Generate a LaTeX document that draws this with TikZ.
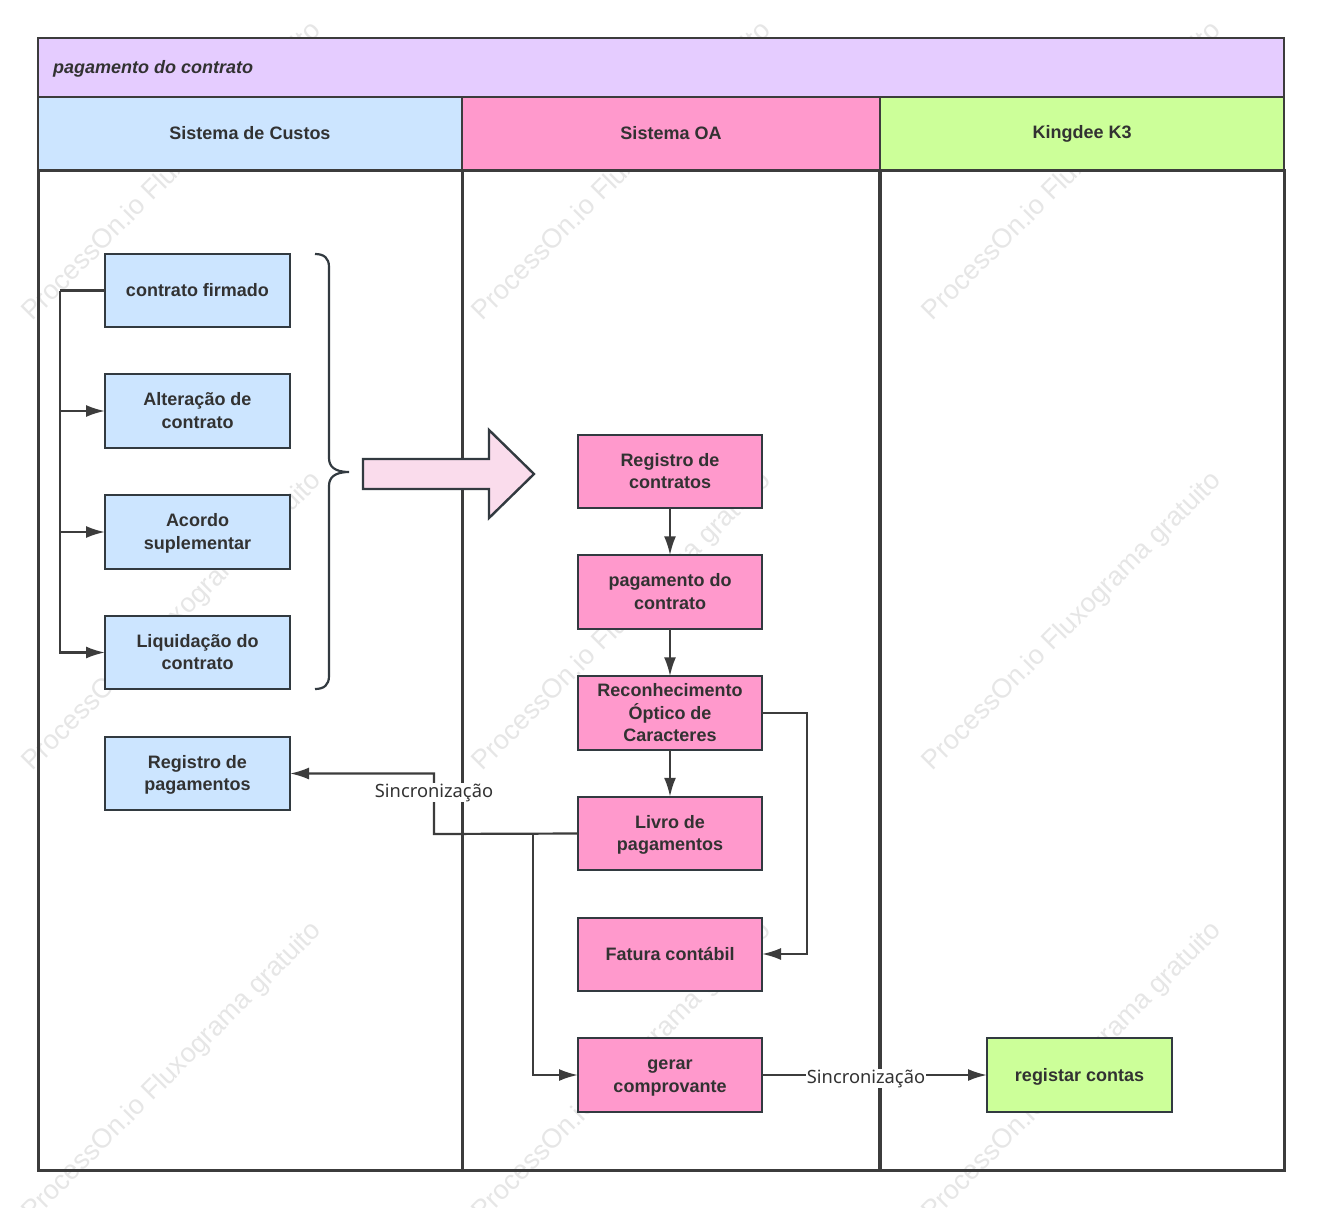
\documentclass[tikz,border=0pt]{standalone}
\usepackage{fontspec}
\setmainfont{Liberation Sans}
\newfontfamily\labelfont{Noto Sans}
\usetikzlibrary{arrows.meta}
\definecolor{inkline}{HTML}{323A40}
\definecolor{laneline}{HTML}{3C3C3C}
\definecolor{inktext}{HTML}{323232}
\definecolor{titlefill}{HTML}{E5CCFF}
\definecolor{bluefill}{HTML}{CCE5FF}
\definecolor{pinkfill}{HTML}{FF99CC}
\definecolor{greenfill}{HTML}{CCFF99}
\definecolor{arrowfill}{HTML}{FADCEC}
\definecolor{markgray}{HTML}{E6E6E6}
\newcommand{\lift}{\rule{0pt}{19pt}}
\tikzset{
  stepbox/.style={draw=inkline,line width=2.4pt,minimum width=185pt,minimum height=73.5pt,
    inner sep=0pt,outer sep=0pt,align=center,text=inktext,font=\fontsize{18}{22.5}\selectfont\bfseries,
    execute at begin node=\rule{0pt}{18.75pt},execute at end node=\strut},
  lanehead/.style={draw=laneline,line width=2.9pt,minimum height=73pt,inner sep=0pt,outer sep=0pt,
    text=inktext,font=\fontsize{18}{22}\selectfont\bfseries},
  lanebody/.style={draw=laneline,line width=3pt,minimum height=1000pt,inner sep=0pt,outer sep=0pt},
  flow/.style={draw=laneline,line width=2.2pt,-{Latex[length=19pt,width=12pt]}},
  flowline/.style={draw=laneline,line width=2.2pt},
  synclabel/.style={fill=white,inner sep=1pt,text=inktext,font=\labelfont\fontsize{18.3}{22}\selectfont},
  watermark/.style={rotate=45,text=markgray,font=\fontsize{27}{30}\selectfont}
}
\begin{document}
\begin{tikzpicture}[x=1pt,y=-1pt]
\path[use as bounding box,clip] (0,0) rectangle (1321,1207);
\fill[white] (0,0) rectangle (1321,1207);
% watermark
\node[watermark] (markA) at (172.5,172) {ProcessOn.io Fluxograma gratuito};
\node[watermark] (markB) at (622.5,172) {ProcessOn.io Fluxograma gratuito};
\node[watermark] (markC) at (1072.5,172) {ProcessOn.io Fluxograma gratuito};
\node[watermark] (markD) at (172.5,622) {ProcessOn.io Fluxograma gratuito};
\node[watermark] (markE) at (622.5,622) {ProcessOn.io Fluxograma gratuito};
\node[watermark] (markF) at (1072.5,622) {ProcessOn.io Fluxograma gratuito};
\node[watermark] (markG) at (172.5,1072) {ProcessOn.io Fluxograma gratuito};
\node[watermark] (markH) at (622.5,1072) {ProcessOn.io Fluxograma gratuito};
\node[watermark] (markI) at (1072.5,1072) {ProcessOn.io Fluxograma gratuito};
% lanes
\node[lanebody,minimum width=424pt] (bodyCustos) at (250,670) {};
\node[lanebody,minimum width=418pt] (bodyOA) at (671,670) {};
\node[lanebody,minimum width=404pt] (bodyK3) at (1082,670) {};
\draw[laneline,line width=3.8pt] (bodyK3.north west) -- (bodyK3.south west);
\node[lanehead,minimum width=1246pt,minimum height=59pt,fill=titlefill] (title) at (661,67.5) {};
\node[anchor=west,inner sep=0pt,text=inktext,font=\fontsize{18}{22}\selectfont\bfseries\itshape] (titleText) at (53,68.5) {pagamento do contrato};
\node[lanehead,minimum width=424pt,fill=bluefill] (headCustos) at (250,133.5) {Sistema de Custos};
\node[lanehead,minimum width=418pt,fill=pinkfill] (headOA) at (671,133.5) {Sistema OA};
\node[lanehead,minimum width=404pt,fill=greenfill] (headK3) at (1082,133.5) {Kingdee K3};
% boxes on the left
\node[stepbox,fill=bluefill] (firmado) at (197.5,290.5) {contrato firmado};
\node[stepbox,fill=bluefill] (alteracao) at (197.5,411) {\lift Alteração de\\contrato};
\node[stepbox,fill=bluefill] (acordo) at (197.5,532) {\lift Acordo\\suplementar};
\node[stepbox,fill=bluefill] (liquidacao) at (197.5,652.5) {\lift Liquidação do\\contrato};
\node[stepbox,fill=bluefill] (pagamentos) at (197.5,773.5) {\lift Registro de\\pagamentos};
% boxes in the middle
\node[stepbox,fill=pinkfill,minimum width=184pt] (registro) at (670,471.5) {\lift Registro de\\contratos};
\node[stepbox,fill=pinkfill,minimum width=184pt] (pagamento) at (670,592) {\lift pagamento do\\contrato};
\node[stepbox,fill=pinkfill,minimum width=184pt] (ocr) at (670,713) {\lift Reconhecimento\\Óptico de\\Caracteres};
\node[stepbox,fill=pinkfill,minimum width=184pt] (livro) at (670,833.5) {\lift Livro de\\pagamentos};
\node[stepbox,fill=pinkfill,minimum width=184pt] (fatura) at (670,954.5) {Fatura contábil};
\node[stepbox,fill=pinkfill,minimum width=184pt] (gerar) at (670,1075) {\lift gerar\\comprovante};
% box on the right
\node[stepbox,fill=greenfill] (contas) at (1079.5,1075) {registar contas};
% brace
\draw[inkline,line width=2.2pt] (315,254) .. controls (324,254) and (329,258) .. (329,267)
  -- (329,458) .. controls (329,466) and (334,472) .. (349,472)
  .. controls (334,472) and (329,478) .. (329,486) -- (329,676)
  .. controls (329,685) and (324,689) .. (315,689);
% big arrow
\draw[inkline,line width=2.4pt,fill=arrowfill,line join=miter] (363,459) -- (489,459) -- (489,430)
  -- (534,474) -- (489,518) -- (489,489) -- (363,489) -- cycle;
% connectors
\coordinate (trunk) at (60,290.5);
\coordinate (syncturn) at (434,834);
\coordinate (syncup) at (434,773.5);
\coordinate (splitdown) at (533,834);
\coordinate (ocrright) at (807,713);
\coordinate (faturaright) at (807,954);
\draw[flowline,line width=2.8pt] (firmado.west) -- (trunk);
\draw[flow] (trunk) |- (alteracao.west);
\draw[flow] (trunk) |- (acordo.west);
\draw[flow] (trunk) |- (liquidacao.west);
\draw[flow] (registro) -- (pagamento);
\draw[flow] (pagamento) -- (ocr);
\draw[flow] (ocr) -- (livro);
\draw[flow] (ocr.east) -- (ocrright) -- (faturaright) -- (fatura.east |- faturaright);
\draw[flow] (livro.west) -- (syncturn) -- (syncup) -- (pagamentos.east);
\draw[flow] (splitdown) |- (gerar.west);
\draw[flow] (gerar) -- (contas);
\node[synclabel] (syncA) at (434,792.5) {Sincronização};
\node[synclabel] (syncB) at (866,1078.5) {Sincronização};
\end{tikzpicture}
\end{document}
